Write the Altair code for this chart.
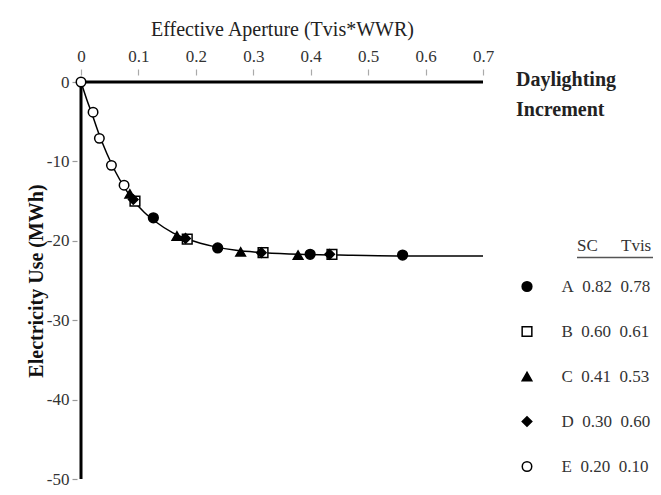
import altair as alt
import pandas as pd

FONT = "Liberation Serif"
NB = "\u00a0"

# Legend table
letters = ["A", "B", "C", "D", "E"]
sc_vals = ["0.82", "0.60", "0.41", "0.30", "0.20"]
tvis_vals = ["0.78", "0.61", "0.53", "0.60", "0.10"]

# Measured points (effective aperture, electricity use MWh)
a_x = [0.126, 0.238, 0.399, 0.560]
a_y = [-17.1, -20.9, -21.7, -21.8]
b_x = [0.094, 0.185, 0.317, 0.437]
b_y = [-15.0, -19.8, -21.5, -21.7]
c_x = [0.085, 0.167, 0.278, 0.378]
c_y = [-14.1, -19.4, -21.4, -21.8]
d_x = [0.091, 0.182, 0.314, 0.433]
d_y = [-14.8, -19.7, -21.5, -21.7]
e_x = [0.0, 0.021, 0.032, 0.053, 0.075]
e_y = [0.0, -3.8, -7.1, -10.5, -13.0]

# Fitted curve
fit_x = [0.0, 0.01, 0.02, 0.03, 0.045, 0.06, 0.075, 0.09, 0.11, 0.13, 0.16,
         0.19, 0.23, 0.27, 0.32, 0.38, 0.45, 0.55, 0.70]
fit_y = [0.0, -2.2, -4.2, -6.3, -9.0, -11.3, -13.2, -14.8, -16.4, -17.6, -19.0,
         -19.9, -20.7, -21.2, -21.5, -21.7, -21.8, -21.9, -21.9]

# Axis frame (data units)
frame_x = [0.0, 0.0]
frame_y = [0.0, 0.0]
frame_x2 = [0.0, 0.7]
frame_y2 = [-50.0, 0.0]

x_ticks = [0, 0.1, 0.2, 0.3, 0.4, 0.5, 0.6, 0.7]
y_ticks = [0, -10, -20, -30, -40, -50]

labels = [f"{l}{NB*2}{s}{NB*2}{t}" for l, s, t in zip(letters, sc_vals, tvis_vals)]

rows = []
for lab, xs, ys in zip(labels, [a_x, b_x, c_x, d_x, e_x], [a_y, b_y, c_y, d_y, e_y]):
    for xv, yv in zip(xs, ys):
        rows.append({"x": xv, "y": yv, "series": lab})
pts = pd.DataFrame(rows)
fit = pd.DataFrame({"x": fit_x, "y": fit_y})
frame = pd.DataFrame({"x": frame_x, "y": frame_y, "x2": frame_x2, "y2": frame_y2})

x_enc = alt.X(
    "x:Q",
    scale=alt.Scale(domain=[0, 0.7], nice=False, zero=False),
    axis=alt.Axis(
        orient="top", values=x_ticks, labelExpr="'' + datum.value",
        title="Effective Aperture (Tvis*WWR)", domain=False, grid=False,
        offset=7, tickSize=6, tickColor="#aaa", tickWidth=1.2,
        labelPadding=4, labelFlush=False, labelOverlap=False,
        labelFont=FONT, labelFontSize=17, labelColor="#333",
        titleFont=FONT, titleFontSize=20, titleFontWeight="normal",
        titleColor="#222", titlePadding=8,
    ),
)
y_enc = alt.Y(
    "y:Q",
    scale=alt.Scale(domain=[-50, 0], nice=False, zero=False),
    axis=alt.Axis(
        orient="left", values=y_ticks, labelExpr="'' + datum.value",
        title="Electricity Use (MWh)", domain=False, grid=False,
        offset=4, tickSize=5, tickColor="#999", tickWidth=1.2,
        labelPadding=3, labelFlush=False, labelOverlap=False,
        labelFont=FONT, labelFontSize=17, labelColor="#333",
        titleFont=FONT, titleFontSize=20, titleFontWeight="bold",
        titleColor="#111", titlePadding=0,
    ),
)

leg = alt.Legend(
    title=None, orient="none", legendX=437.5, legendY=196, direction="vertical",
    rowPadding=27, labelOffset=26, labelFont=FONT, labelFontSize=17,
    labelColor="#333", symbolStrokeColor="black", symbolStrokeWidth=1.5,
    symbolOpacity=1, padding=0,
)

frame_layer = alt.Chart(frame).mark_rule(color="black", strokeWidth=3).encode(
    x=x_enc, y=y_enc, x2="x2:Q", y2="y2:Q"
)
fit_layer = alt.Chart(fit).mark_line(color="black", strokeWidth=1.5, interpolate="monotone").encode(
    x=x_enc, y=y_enc
)
pt_layer = alt.Chart(pts).mark_point(opacity=1, strokeWidth=1.5).encode(
    x=x_enc, y=y_enc,
    shape=alt.Shape("series:N", scale=alt.Scale(domain=labels, range=["circle", "square", "triangle-up", "diamond", "circle"]), legend=leg),
    fill=alt.Fill("series:N", scale=alt.Scale(domain=labels, range=["black", "white", "black", "black", "white"]), legend=leg),
    stroke=alt.Stroke("series:N", scale=alt.Scale(domain=labels, range=["black", "black", "black", "black", "black"]), legend=leg),
    size=alt.Size("series:N", scale=alt.Scale(domain=labels, range=[95, 90, 85, 75, 125]), legend=leg),
)

note = alt.Chart(alt.Data(values=[{"k": 1}])).mark_text(
    text=["Daylighting", "Increment"], lineHeight=30, align="left", baseline="alphabetic",
    font=FONT, fontSize=20, fontWeight="bold", color="#222",
).encode(x=alt.value(435), y=alt.value(4))

hdr_sc = alt.Chart(alt.Data(values=[{"k": 1}])).mark_text(
    text="SC", align="left", baseline="alphabetic", font=FONT, fontSize=17, color="#333"
).encode(x=alt.value(496), y=alt.value(169))
hdr_tv = alt.Chart(alt.Data(values=[{"k": 1}])).mark_text(
    text="Tvis", align="left", baseline="alphabetic", font=FONT, fontSize=17, color="#333"
).encode(x=alt.value(540), y=alt.value(169))
hdr_line = alt.Chart(alt.Data(values=[{"k": 1}])).mark_rule(color="#555", strokeWidth=1.5).encode(
    x=alt.value(496), x2=alt.value(572), y=alt.value(175.5)
)

chart = alt.layer(frame_layer, fit_layer, pt_layer, note, hdr_sc, hdr_tv, hdr_line).properties(
    width=402, height=397,
    autosize=alt.AutoSizeParams(type="none"),
    padding={"left": 73, "top": 74, "right": 170, "bottom": 8},
    background="white",
).configure_view(stroke=None)

chart.save("out.html", embed_options={"renderer": "svg", "actions": False})
